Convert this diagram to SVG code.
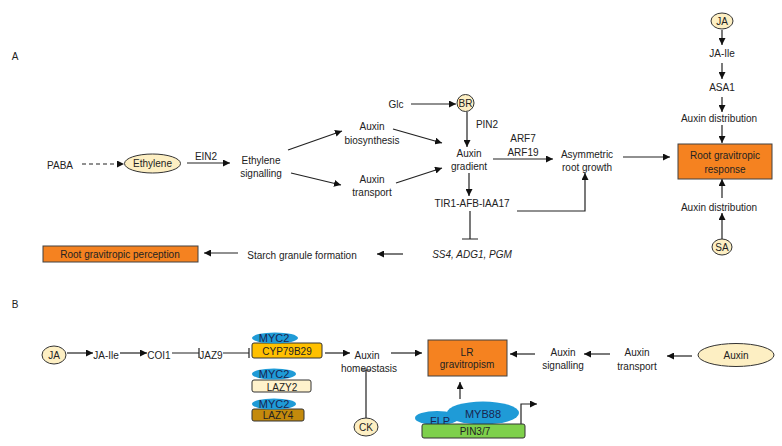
<svg xmlns="http://www.w3.org/2000/svg" width="782" height="446" viewBox="0 0 782 446">
<defs>
<style>
.t{font-family:"Liberation Sans",Arial,sans-serif;font-size:10px;fill:#222;text-anchor:middle;dominant-baseline:central}
.i{font-style:italic}
.s{font-size:11px}
.c{fill:none;stroke:#222;stroke-width:1.2}
.a{marker-end:url(#ah)}
.d{stroke-dasharray:4 3}
.bg{fill:#FDEFC3;stroke:#333;stroke-width:1}
.or{fill:#F58220;stroke:#404040;stroke-width:1}
.myc{fill:#1F9BD7;stroke:none}
.n{fill:#1A2550}
</style>
<marker id="ah" viewBox="0 0 10 10" refX="10" refY="5" markerWidth="7" markerHeight="7" orient="auto" markerUnits="userSpaceOnUse">
<path d="M0,0 L10,5 L0,10z" fill="#111"/>
</marker>
</defs>
<rect width="782" height="446" fill="#fff"/>

<g id="connectors">
<path class="c a d" d="M82,164 H124"/>
<path class="c a" d="M187,163 H230"/>
<path class="c a" d="M288,150 L342,131"/>
<path class="c a" d="M291,173 L341,185"/>
<path class="c a" d="M393,129 L442,143"/>
<path class="c a" d="M396,183 L442,168"/>
<path class="c a" d="M411,104 H456"/>
<path class="c a" d="M467,112 V147"/>
<path class="c a" d="M469,173 V196"/>
<path class="c a" d="M493,159 H553"/>
<path class="c a" d="M517,211 H585 V173"/>
<path class="c" d="M470,211 V239 M462,239 H478"/>
<path class="c a" d="M403,254 H377"/>
<path class="c a" d="M238,253 H204"/>
<path class="c a" d="M623,157 H670"/>
<path class="c a" d="M722,30 V45"/>
<path class="c a" d="M722,63 V79"/>
<path class="c a" d="M722,97 V112"/>
<path class="c a" d="M722,125 V143"/>
<path class="c a" d="M722,198 V179"/>
<path class="c a" d="M722,239 V213"/>

<path class="c a" d="M67,353 H93"/>
<path class="c a" d="M120,353 H147"/>
<path class="c" d="M172,353 H199 M199,348 V358"/>
<path class="c" d="M223,353 H249 M249,348 V358"/>
<path class="c a" d="M325,353 H350"/>
<path class="c" d="M366,418 V370 M361,370 H371" stroke="#555"/>
<path class="c a" d="M391,353 H422"/>
<path class="c a" d="M460,399 V382"/>
<path class="c a" d="M521,424 V404 H537"/>
<path class="c a" d="M535,354 H510"/>
<path class="c a" d="M610,354 H584"/>
<path class="c a" d="M692,356 H667"/>
</g>

<text class="t" x="15" y="56">A</text>
<g id="paba"><text class="t" x="60" y="165">PABA</text></g>
<g id="ethylene"><ellipse class="bg" cx="152.5" cy="163.5" rx="28" ry="9.5"/><text class="t" x="152.5" y="163.5">Ethylene</text></g>
<text class="t" x="206" y="156">EIN2</text>
<g id="eth-sig"><text class="t" x="261" y="160">Ethylene</text><text class="t" x="261" y="173">signalling</text></g>
<g id="aux-bio"><text class="t" x="372" y="126">Auxin</text><text class="t" x="372" y="140">biosynthesis</text></g>
<g id="aux-tr"><text class="t" x="372" y="179">Auxin</text><text class="t" x="372" y="192">transport</text></g>
<g id="glc"><text class="t" x="396" y="104">Glc</text></g>
<g id="br"><circle class="bg" cx="465.5" cy="103" r="8.5"/><text class="t" x="465.5" y="103">BR</text></g>
<text class="t" x="487" y="124">PIN2</text>
<g id="aux-grad"><text class="t" x="469" y="153">Auxin</text><text class="t" x="469" y="166">gradient</text></g>
<text class="t" x="523" y="138">ARF7</text>
<text class="t" x="523" y="152">ARF19</text>
<g id="asym"><text class="t" x="587" y="154">Asymmetric</text><text class="t" x="587" y="167">root growth</text></g>
<g id="tir1"><text class="t" x="472" y="203">TIR1-AFB-IAA17</text></g>
<g id="ss4"><text class="t i" x="472" y="254">SS4, ADG1, PGM</text></g>
<g id="starch"><text class="t" x="302" y="255">Starch granule formation</text></g>
<g id="perception"><rect class="or" x="43" y="246" width="155" height="16"/><text class="t" x="120" y="254">Root gravitropic perception</text></g>
<g id="ja-top"><ellipse class="bg" cx="722" cy="21" rx="11" ry="8"/><text class="t" x="722" y="21">JA</text></g>
<g id="ja-ile-top"><text class="t" x="722" y="53">JA-Ile</text></g>
<g id="asa1"><text class="t" x="722" y="87">ASA1</text></g>
<g id="aux-dist1"><text class="t" x="719" y="118">Auxin distribution</text></g>
<g id="response"><rect class="or" x="678" y="144" width="94" height="35"/><text class="t" x="725" y="155">Root gravitropic</text><text class="t" x="725" y="169">response</text></g>
<g id="aux-dist2"><text class="t" x="719" y="207">Auxin distribution</text></g>
<g id="sa"><ellipse class="bg" cx="722" cy="247" rx="10" ry="8"/><text class="t" x="722" y="247">SA</text></g>

<text class="t" x="15" y="304">B</text>
<g id="ja-b"><ellipse class="bg" cx="54" cy="355" rx="12" ry="9"/><text class="t" x="54" y="355">JA</text></g>
<g id="ja-ile-b"><text class="t" x="106" y="355">JA-Ile</text></g>
<g id="coi1"><text class="t" x="159" y="355">COI1</text></g>
<g id="jaz9"><text class="t" x="211" y="355">JAZ9</text></g>
<g id="cyp"><rect x="252" y="343" width="70" height="15" rx="2" fill="#FFC000" stroke="#333"/><ellipse class="myc" cx="275" cy="338" rx="23" ry="5.5"/><text class="t n s" x="274" y="338">MYC2</text><text class="t" x="287" y="351">CYP79B29</text></g>
<g id="lazy2"><rect x="252" y="380" width="59" height="12" rx="2" fill="#FFF2CC" stroke="#333"/><ellipse class="myc" cx="274" cy="374" rx="22" ry="5.5"/><text class="t n s" x="274" y="374">MYC2</text><text class="t" x="282" y="387">LAZY2</text></g>
<g id="lazy4"><rect x="252" y="409" width="52" height="12" rx="2" fill="#C48A0C" stroke="#333"/><ellipse class="myc" cx="274" cy="404" rx="22" ry="5.5"/><text class="t n s" x="274" y="404">MYC2</text><text class="t" x="278" y="415">LAZY4</text></g>
<g id="homeo"><text class="t" x="367" y="355">Auxin</text><text class="t" x="369" y="368">homeostasis</text></g>
<g id="ck"><ellipse class="bg" cx="366" cy="427" rx="12" ry="9"/><text class="t" x="366" y="427">CK</text></g>
<g id="lr"><rect class="or" x="428" y="340" width="79" height="36"/><text class="t" x="467" y="352">LR</text><text class="t" x="467" y="364">gravitropism</text></g>
<g id="aux-sig-b"><text class="t" x="563" y="352">Auxin</text><text class="t" x="563" y="365">signalling</text></g>
<g id="aux-tr-b"><text class="t" x="637" y="352">Auxin</text><text class="t" x="637" y="366">transport</text></g>
<g id="auxin"><ellipse class="bg" cx="736" cy="355" rx="38" ry="11.5"/><text class="t" x="736" y="355">Auxin</text></g>
<g id="pin37">
<ellipse class="myc" cx="437" cy="418" rx="22" ry="7"/><text class="t n s" x="440" y="421">FLP</text>
<ellipse class="myc" cx="483" cy="413" rx="36" ry="11.5"/><text class="t n s" x="483" y="414">MYB88</text>
<rect x="422" y="424" width="103" height="14" rx="2" fill="#7ED04B" stroke="#333"/><text class="t" x="475" y="431">PIN3/7</text>
</g>
</svg>
